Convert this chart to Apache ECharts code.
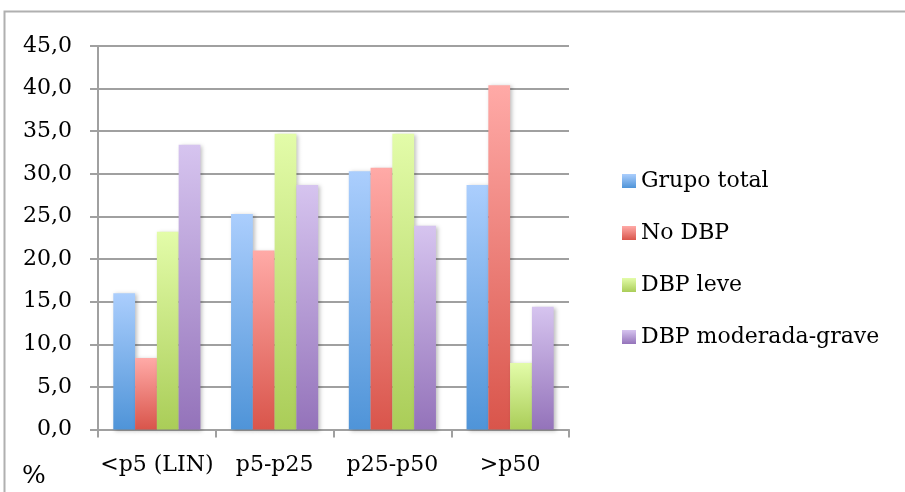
<!DOCTYPE html>
<html>
<head>
<meta charset="utf-8">
<script src="https://cdn.jsdelivr.net/npm/echarts@6/dist/echarts.min.js"></script>
<style>
html,body{margin:0;padding:0;background:#fff;}
#chart{width:905px;height:492px;}
</style>
</head>
<body>
<div id="chart"></div>
<script>
const categories = ['<p5 (LIN)', 'p5-p25', 'p25-p50', '>p50'];
const seriesNames = ['Grupo total', 'No DBP', 'DBP leve', 'DBP moderada-grave'];
const grupoTotal = [16.0, 25.3, 30.3, 28.7];
const noDBP = [8.4, 21.0, 30.7, 40.4];
const dbpLeve = [23.2, 34.7, 34.7, 7.8];
const dbpModGrave = [33.4, 28.7, 23.9, 14.4];
const yTicks = { min: 0, max: 45, interval: 5 };

const values = [grupoTotal, noDBP, dbpLeve, dbpModGrave];
const gradients = [
  ['#abcefd', '#4f94d8'],
  ['#ffaaa7', '#d9554b'],
  ['#e3fca9', '#aacd58'],
  ['#d6c4ef', '#9473ba']
];
const FONT = 'DejaVu Serif';

const chart = echarts.init(document.getElementById('chart'), null, { renderer: 'canvas' });
chart.setOption({
  animation: false,
  backgroundColor: '#ffffff',
  grid: { left: 98, right: 336, top: 46, bottom: 62.5 },
  legend: {
    orient: 'vertical',
    left: 617,
    top: 165,
    itemWidth: 14,
    itemHeight: 14,
    itemGap: 30,
    icon: 'rect',
    textStyle: { fontFamily: FONT, fontSize: 22, color: '#000', lineHeight: 22 },
    data: seriesNames
  },
  xAxis: {
    type: 'category',
    data: categories,
    axisLine: { lineStyle: { color: '#a0a0a0', width: 2 } },
    axisTick: { show: true, length: 8, interval: 0, lineStyle: { color: '#a0a0a0', width: 2 } },
    axisLabel: { interval: 0, fontFamily: FONT, fontSize: 22, color: '#000', margin: 25 }
  },
  yAxis: {
    type: 'value',
    min: yTicks.min,
    max: yTicks.max,
    interval: yTicks.interval,
    axisLine: { show: true, lineStyle: { color: '#a0a0a0', width: 2 } },
    axisTick: { show: true, length: 8, lineStyle: { color: '#a0a0a0', width: 2 } },
    splitLine: { lineStyle: { color: '#a0a0a0', width: 2 } },
    axisLabel: {
      fontFamily: FONT, fontSize: 22, color: '#000', margin: 26,
      formatter: v => v.toFixed(1).replace('.', ',')
    }
  },
  graphic: [
    {
      type: 'rect',
      shape: { x: 4.5, y: 11.5, width: 1200, height: 1200 },
      style: { fill: 'none', stroke: '#b0b0b0', lineWidth: 2 },
      silent: true, z: -1
    },
    {
      type: 'text',
      left: 22, top: 464,
      style: { text: '%', fontFamily: FONT, fontSize: 25, fill: '#000' }
    }
  ],
  series: seriesNames.map((name, i) => ({
    name: name,
    type: 'bar',
    data: values[i],
    barGap: '0%',
    barCategoryGap: '26%',
    itemStyle: {
      color: new echarts.graphic.LinearGradient(0, 0, 0, 1, [
        { offset: 0, color: gradients[i][0] },
        { offset: 1, color: gradients[i][1] }
      ]),
      shadowColor: 'rgba(0,0,0,0.25)',
      shadowBlur: 4,
      shadowOffsetX: 2,
      shadowOffsetY: 1
    }
  }))
});
</script>
</body>
</html>
